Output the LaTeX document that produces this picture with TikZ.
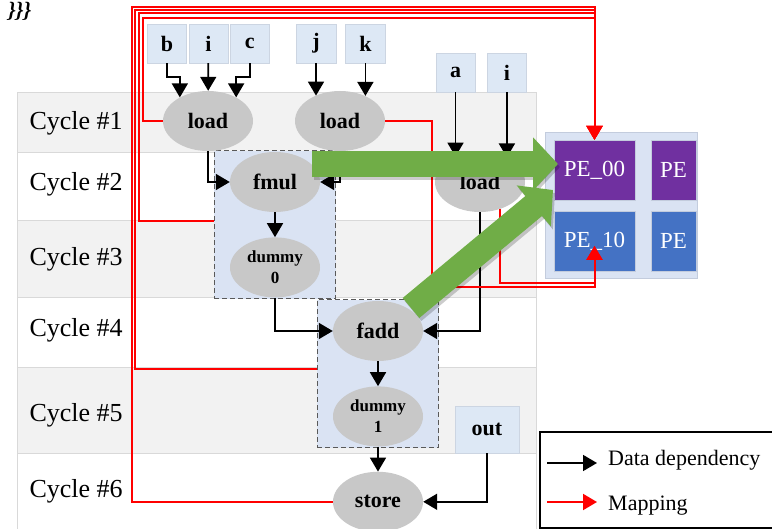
\documentclass[tikz,border=0pt]{standalone}
\usepackage{fontspec}
\setmainfont{Liberation Serif}
\usetikzlibrary{positioning,fit,arrows.meta,shapes.geometric,backgrounds}
\definecolor{rowgray}{HTML}{F2F2F2}
\definecolor{rowline}{HTML}{D9D9D9}
\definecolor{inblue}{HTML}{DDE8F5}
\definecolor{inline}{HTML}{CCD5E2}
\definecolor{opgray}{HTML}{C8C8C8}
\definecolor{grpfill}{HTML}{DAE3F3}
\definecolor{grpline}{HTML}{595959}
\definecolor{pebg}{HTML}{DAE3F3}
\definecolor{peline}{HTML}{C3CCDD}
\definecolor{pepurple}{HTML}{7030A0}
\definecolor{peblue}{HTML}{4472C4}
\definecolor{biggreen}{HTML}{70AD47}
\tikzset{
  op/.style={ellipse,fill=opgray,minimum width=90pt,minimum height=60pt,inner sep=0pt,font=\fontsize{22}{24}\selectfont\bfseries},
  dum/.style={op,align=center,font=\fontsize{17}{21}\selectfont\bfseries},
  inp/.style={rectangle,fill=inblue,draw=inline,minimum width=39pt,minimum height=39pt,inner sep=0pt,font=\fontsize{22}{24}\selectfont\bfseries},
  grp/.style={draw=grpline,dash pattern=on 5pt off 3pt,fill=grpfill,line width=1.2pt,inner xsep=15.5pt,inner ysep=1pt},
  pe/.style={rectangle,draw=peline,minimum width=81pt,minimum height=60pt,inner sep=0pt,text=white,font=\fontsize{23}{25}\selectfont},
  cyc/.style={anchor=base west,font=\fontsize{26}{28}\selectfont},
  depedge/.style={-{Triangle[length=14pt,width=16pt]},line width=1.7pt},
  mapedge/.style={-{Triangle[length=14pt,width=16pt]},red,line width=2pt},
  bigedge/.style={-{Triangle[length=25pt,width=52pt]},line width=26pt,draw=biggreen}
}
\begin{document}
\begin{tikzpicture}[x=1pt,y=-1pt]
\useasboundingbox (0,0) rectangle (772,529);
% cycle table
\begin{scope}[on background layer]
\foreach \r/\ya/\yb/\yt/\fc in {1/92/152/130/rowgray,2/152/220/191/white,3/220/297/266/rowgray,4/297/367/337/white,5/367/453/422/rowgray,6/453/531/498/white}{
  \draw[rowline,fill=\fc] (17,\ya) rectangle (536,\yb);
  \node[cyc] (cyc\r) at (26,\yt) {Cycle \#\r};
}
\end{scope}
\node[anchor=base west,inner sep=0pt,font=\fontsize{22}{24}\selectfont\bfseries\itshape] (junk) at (8,18) {\}\}\}};
% inputs
\node[inp] (b) at (167,43.5) {b};
\node[inp,right=2pt of b] (i1) {i};
\node[inp,right=2pt of i1] (c) {c};
\node[inp,minimum width=40pt] (j) at (316,43.5) {j};
\node[inp,minimum width=40pt,right=9pt of j] (k) {k};
\node[inp] (a) at (455.5,72.5) {a};
\node[inp,right=12pt of a] (i2) {i};
\node[inp,minimum width=64pt,minimum height=47pt] (out) at (487,429.5) {out};
% operations
\node[op] (load1) at (208,121) {load};
\node[op] (load2) at (340,121) {load};
\node[op] (load3) at (480,182) {load};
\node[op] (fmul) at (275,182) {fmul};
\node[dum,below=25pt of fmul] (dummy0) {dummy\\0};
\node[op] (fadd) at (378,331) {fadd};
\node[dum,below=25pt of fadd] (dummy1) {dummy\\1};
\node[op,below=25pt of dummy1] (store) {store};
\begin{scope}[on background layer]
\node[grp,fit=(fmul)(dummy0)] (grp0) {};
\node[grp,fit=(fadd)(dummy1)] (grp1) {};
\end{scope}
% PE array
\node[draw=peline,fill=pebg,minimum width=152pt,minimum height=146pt] (pearr) at (621,205) {};
\node[pe,fill=pepurple] (pe00) at (594.5,170) {PE\_00};
\node[pe,fill=peblue] (pe10) at (594.5,241) {PE\_10};
\node[pe,fill=pepurple,minimum width=45pt] (pe01) at (673.5,170) {PE};
\node[pe,fill=peblue,minimum width=45pt] (pe11) at (673.5,241) {PE};
\coordinate (pe10pt) at ([yshift=-5pt]pe10.center);
% data dependency
\draw[depedge] (b.south) -- ++(0,14) -| (load1.140);
\draw[depedge] (i1) -- (load1);
\draw[depedge] (c.south) -- ++(0,14) -| (load1.40);
\draw[depedge] (j.south) -- (j.south |- load2.134);
\draw[depedge] (k.south) -- (k.south |- load2.45);
\draw[depedge] (a.south) -- (a.south |- load3.134);
\draw[depedge] (i2.south) -- (i2.south |- load3.43);
\draw[depedge] (load1.south) |- (fmul.west);
\draw[depedge] (load2.south) |- (fmul.east);
\draw[depedge] (fmul) -- (dummy0);
\draw[depedge] (dummy0.south) |- (fadd.west);
\draw[depedge] (load3.south) |- (fadd.east);
\draw[depedge] (fadd) -- (dummy1);
\draw[depedge] (dummy1) -- (store);
\draw[depedge] (out.south) |- (store.east);
% mapping
\draw[mapedge] (load1.west) -| (143,18) -| (pe00.north);
\draw[mapedge] ([yshift=4pt]grp0.west) -| (139,13) -| (pe00.north);
\draw[mapedge] ([yshift=5pt]grp1.west) -| (135,10) -| (pe00.north);
\draw[mapedge] (store.west) -| (132,7) -| (pe00.north);
\draw[mapedge] (load2.east) -| (432,287) -| (pe10pt);
\draw[mapedge] (load3.-54) |- (594.5,283) -- (pe10pt);
% big arrows
\coordinate (g0s) at (312,164); \coordinate (g0e) at (558,164);
\coordinate (g1s) at (411,308); \coordinate (g1e) at (553,190);
\draw[bigedge,draw=black,opacity=.2] ([shift={(2pt,-3pt)}]g0s) -- ([shift={(2pt,-3pt)}]g0e);
\draw[bigedge,draw=black,opacity=.2] ([shift={(2pt,-3pt)}]g1s) -- ([shift={(2pt,-3pt)}]g1e);
\draw[bigedge] (g0s) -- (g0e);
\draw[bigedge] (g1s) -- (g1e);
% legend
\draw[line width=1.5pt] (540,432) rectangle (776,528);
\node[anchor=mid west,inner sep=0pt,font=\fontsize{22}{24}\selectfont] (lgdep) at (608,463) {Data dependency};
\node[anchor=mid west,inner sep=0pt,font=\fontsize{22}{24}\selectfont] (lgmap) at (608,508) {Mapping};
\draw[depedge] ([xshift=-61pt]lgdep.mid west) -- ([xshift=-11pt]lgdep.mid west);
\draw[mapedge] ([shift={(-61pt,6pt)}]lgmap.mid west) -- ([shift={(-11pt,6pt)}]lgmap.mid west);
\end{tikzpicture}
\end{document}
